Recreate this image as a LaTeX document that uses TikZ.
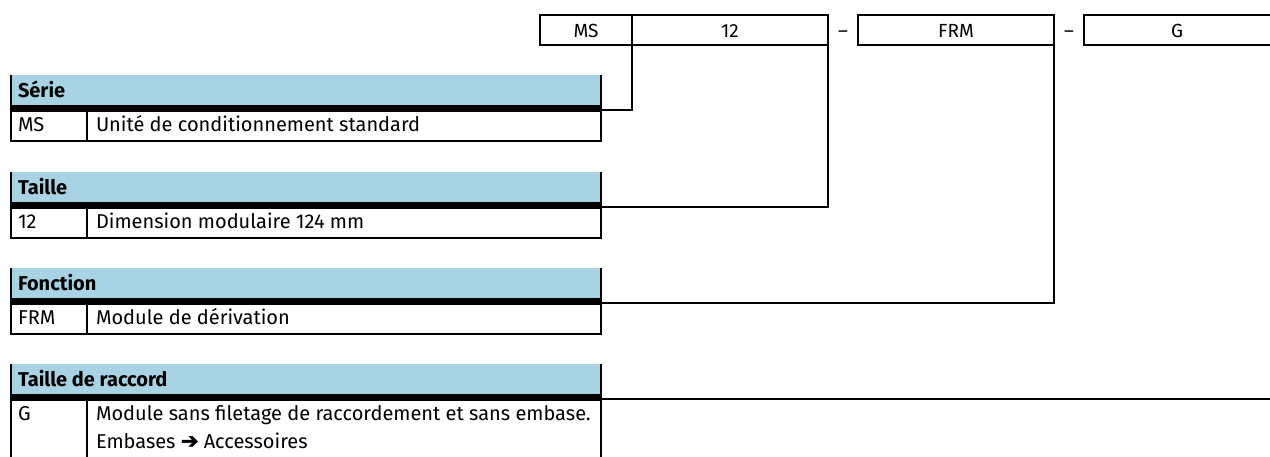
\documentclass[tikz,border=0pt]{standalone}
\usepackage{fontspec}
\setmainfont{Fira Sans}
\newfontfamily\symfont{DejaVu Sans Bold}[FakeBold=2.5]
\definecolor{hblue}{RGB}{168,211,228}
\begin{document}
\begin{tikzpicture}[x=1pt,y=-1pt,line width=2pt,
  txt/.style={font=\fontsize{20}{22}\selectfont,inner sep=0pt,anchor=base west},
  hdrtxt/.style={txt,font=\fontsize{20}{22}\selectfont\bfseries},
  boxtxt/.style={font=\fontsize{19}{22}\selectfont,inner sep=0pt,anchor=base}]
\useasboundingbox (0,0) rectangle (1270,456);
% ---------- top code boxes ----------
\draw (540,15) rectangle (828,45);
\draw (632,15) -- (632,45);
\draw (858,15) rectangle (1054,45);
\draw (1274,15) -- (1084,15) -- (1084,45) -- (1274,45);
\node[boxtxt] (tMS) at (586,37) {MS};
\node[boxtxt] (t12) at (730,37) {12};
\node[boxtxt] (td1) at (843,37) {–};
\node[boxtxt] (tFRM) at (956,37) {FRM};
\node[boxtxt] (td2) at (1069,37) {–};
\node[boxtxt] (tG) at (1177,37) {G};
\coordinate (cMS) at (632,45);
\coordinate (c12) at (828,45);
\coordinate (cFRM) at (1054,45);
\coordinate (cG) at (1274,45);
% ---------- tables ----------
\foreach \T/\B/\name in {75/141/serie,172/238/taille,268/334/fonction,364/470/raccord}{
  \fill[hblue] (11,\T) rectangle (601,\T+30);
  \fill[black] (10,\T+30) rectangle (602,\T+37);
  \draw (11,\T) -- (11,\B) -- (601,\B) -- (601,\T);
  \draw (87,\T+37) -- (87,\B);
  \coordinate (\name) at (601,\T+35);
}
% header and row texts
\node[hdrtxt] (hSerie) at (17,97) {Série};
\node[txt] (cdMS) at (17,131) {MS};
\node[txt] (dMS) at (95,131) {Unité de conditionnement standard};
\node[hdrtxt] (hTaille) at (17,194) {Taille};
\node[txt] (cd12) at (17,228) {12};
\node[txt] (d12) at (95,228) {Dimension modulaire 124 mm};
\node[hdrtxt] (hFonction) at (17,290) {Fonction};
\node[txt] (cdFRM) at (17,324) {FRM};
\node[txt] (dFRM) at (95,324) {Module de dérivation};
\node[hdrtxt] (hRaccord) at (17,386) {Taille de raccord};
\node[txt] (cdG) at (17,420) {G};
\node[txt] (dG1) at (95,420) {Module sans filetage de raccordement et sans embase.};
\node[txt] (dG2) at (95,448) {Embases {\symfont\fontsize{21}{22}\selectfont ➔} Accessoires};
% ---------- connectors ----------
\draw (cMS) |- (serie);
\draw (c12) |- (taille);
\draw (cFRM) |- (fonction);
\draw (cG) |- (raccord);
\end{tikzpicture}
\end{document}
